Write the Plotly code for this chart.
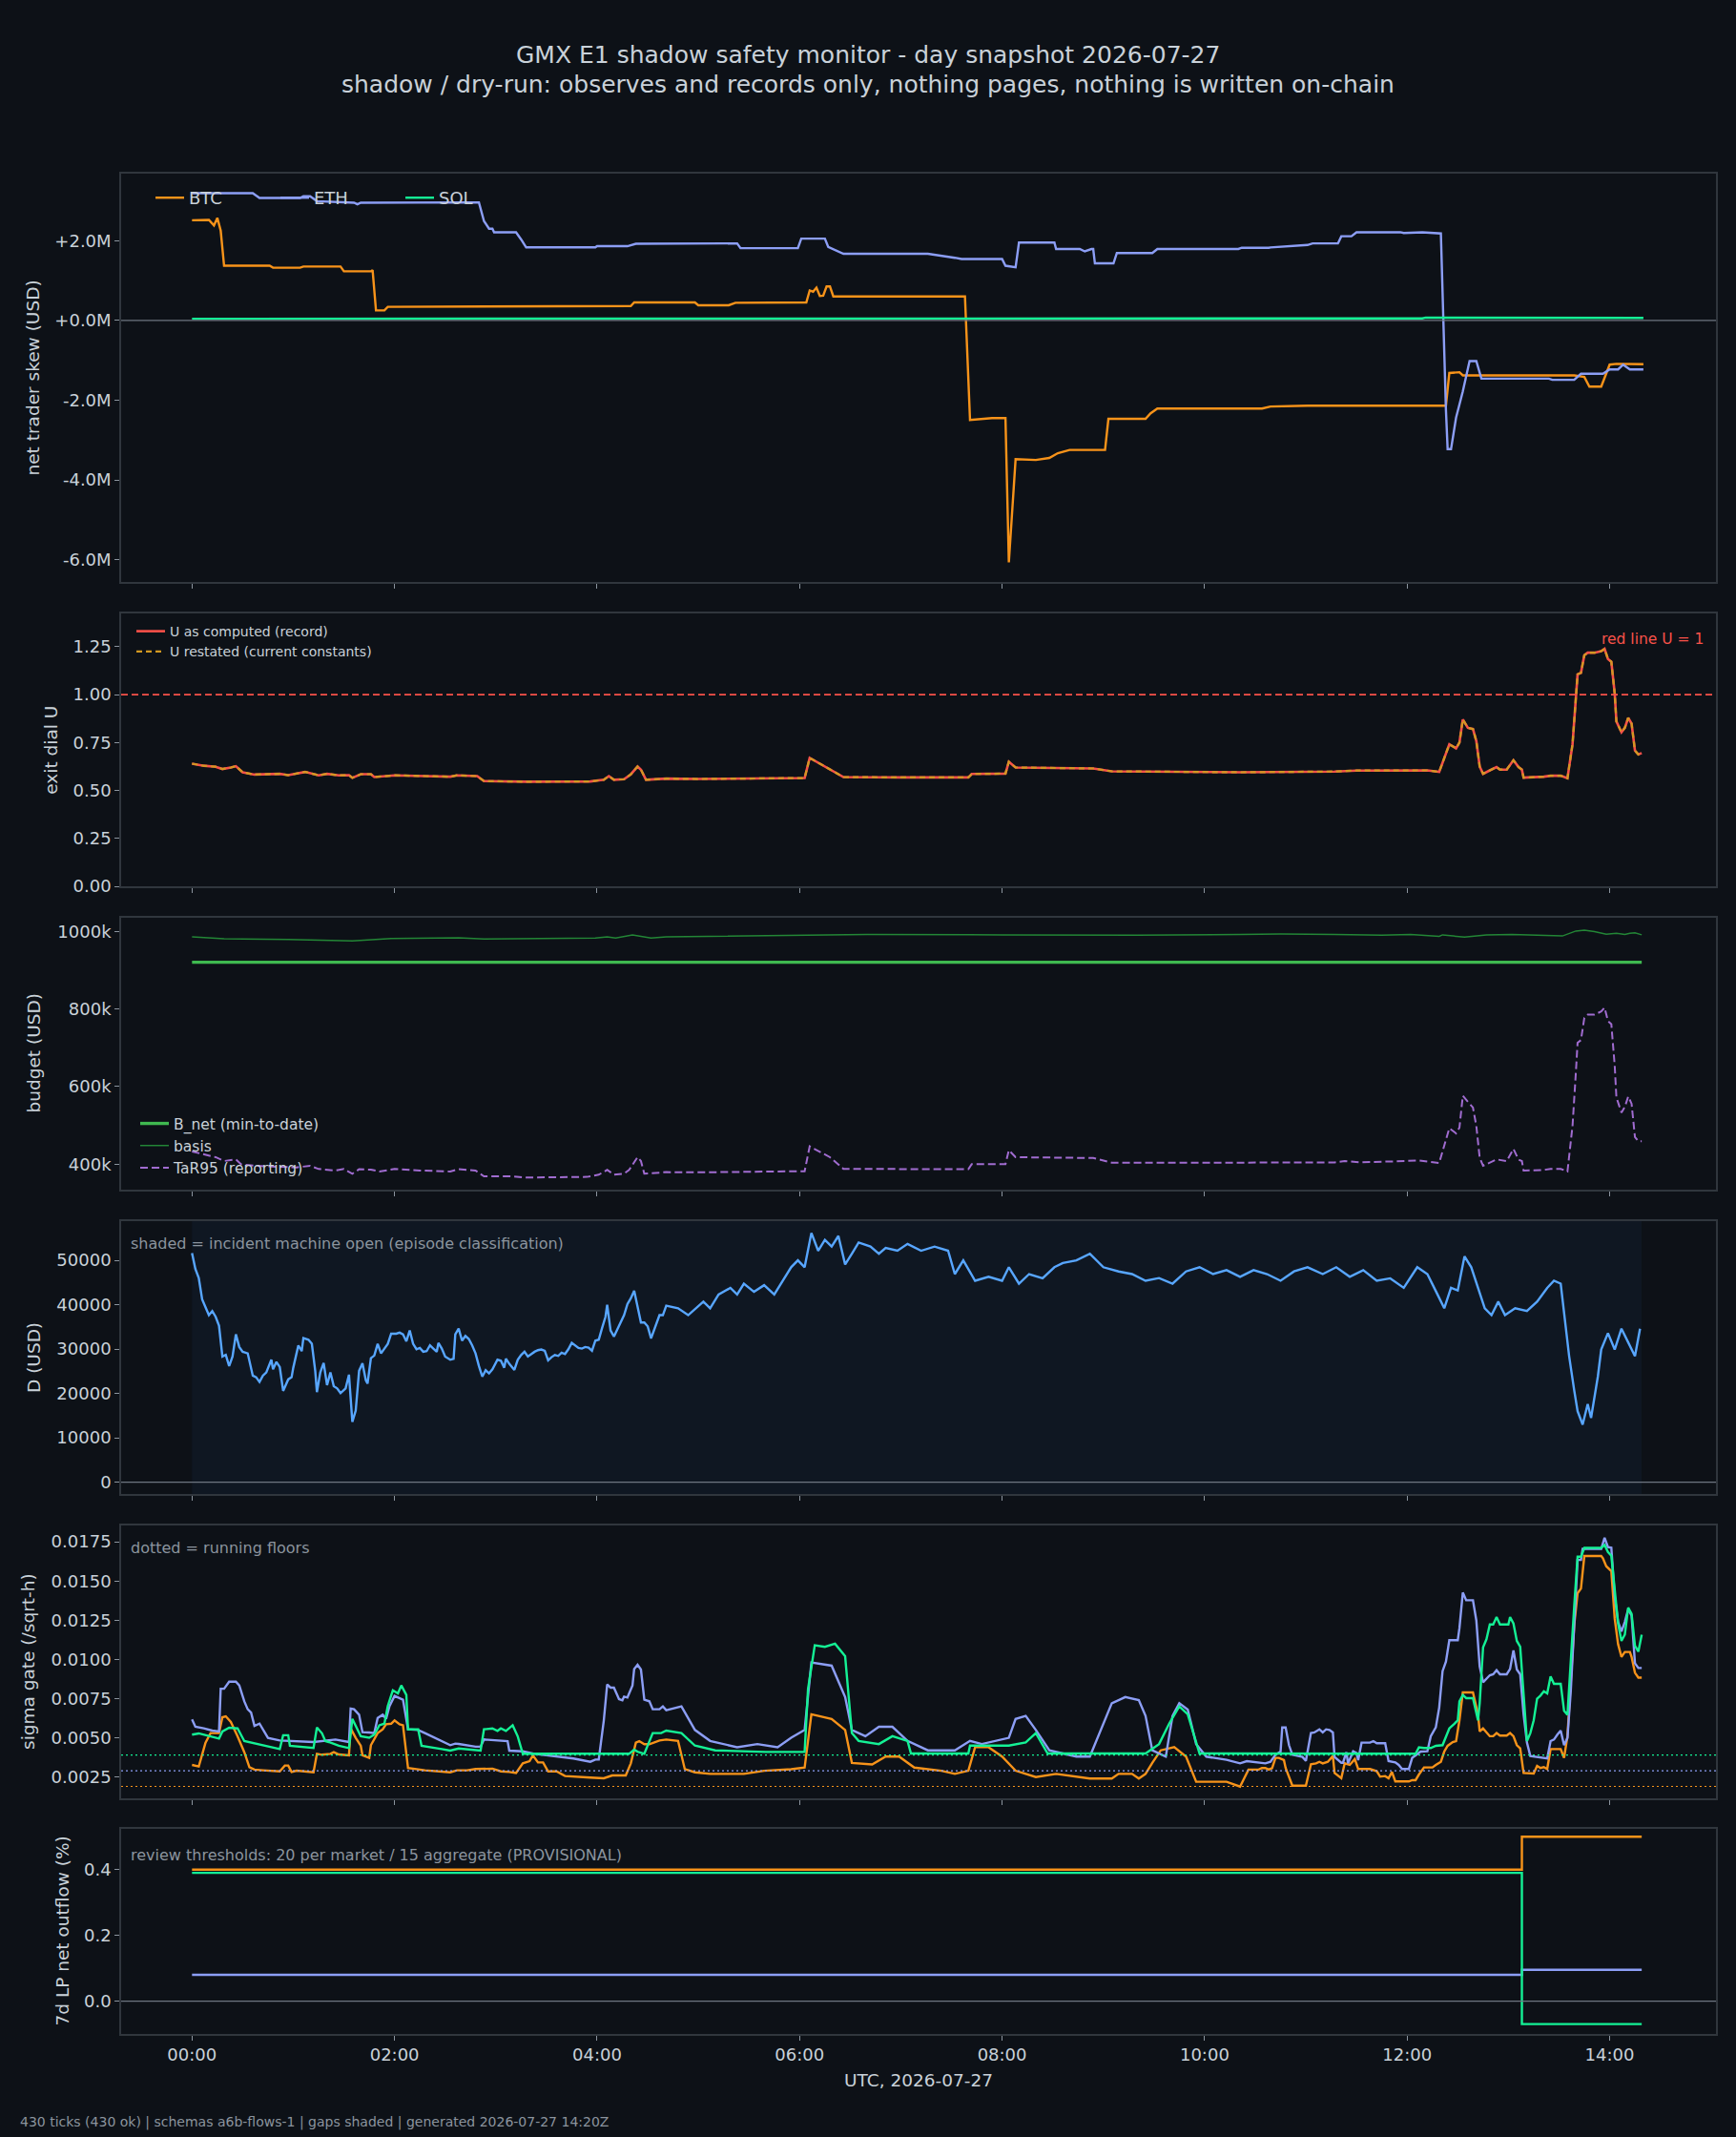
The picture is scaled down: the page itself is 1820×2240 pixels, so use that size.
import pandas as pd
import plotly.graph_objects as go
from plotly.subplots import make_subplots

# ---------------------------------------------------------------- data
# (minutes after 00:00 UTC, value)
SKEW_BTC = [(0, 2.51), (10, 2.52), (13, 2.38), (15, 2.57), (17, 2.25), (19, 1.37), (46, 1.37), (48, 1.32),
            (64, 1.32), (66, 1.35), (88, 1.35), (90, 1.23), (106, 1.23), (107, 1.26), (109, 0.25), (114, 0.25),
            (116, 0.34), (212, 0.35), (227, 0.36), (260, 0.36), (262, 0.45), (298, 0.45), (300, 0.38),
            (318, 0.38), (322, 0.44), (364, 0.45), (366, 0.75), (368, 0.72), (370, 0.82), (372, 0.61),
            (374, 0.62), (376, 0.85), (378, 0.85), (380, 0.60), (458, 0.60), (461, -2.50), (474, -2.45),
            (482, -2.45), (484, -6.07), (488, -3.48), (500, -3.50), (508, -3.45), (513, -3.33), (520, -3.25),
            (541, -3.25), (543, -2.47), (565, -2.47), (568, -2.33), (572, -2.21), (634, -2.21), (639, -2.16),
            (661, -2.14), (743, -2.14), (745, -1.32), (751, -1.30), (753, -1.38), (819, -1.38), (825, -1.42),
            (828, -1.66), (835, -1.66), (840, -1.11), (844, -1.09), (860, -1.10)]
SKEW_ETH = [(0, 3.19), (36, 3.19), (40, 3.07), (64, 3.07), (66, 3.11), (70, 3.11), (74, 2.99), (96, 2.95),
            (98, 2.91), (100, 2.95), (170, 2.96), (173, 2.49), (176, 2.30), (178, 2.30), (179, 2.21),
            (192, 2.21), (195, 2.03), (198, 1.83), (239, 1.83), (240, 1.86), (258, 1.86), (263, 1.92),
            (323, 1.93), (325, 1.81), (359, 1.81), (361, 2.05), (375, 2.05), (377, 1.84), (386, 1.67),
            (436, 1.67), (452, 1.57), (456, 1.54), (480, 1.54), (482, 1.37), (488, 1.33), (490, 1.95),
            (511, 1.95), (512, 1.79), (526, 1.79), (529, 1.73), (533, 1.79), (534, 1.79), (535, 1.43),
            (546, 1.43), (548, 1.69), (569, 1.69), (572, 1.79), (577, 1.80), (580, 1.79), (620, 1.79),
            (622, 1.82), (638, 1.82), (639, 1.83), (661, 1.89), (664, 1.93), (679, 1.93), (681, 2.11),
            (687, 2.11), (690, 2.21), (716, 2.21), (718, 2.19), (729, 2.21), (740, 2.18), (743, -2.25),
            (744, -3.23), (746, -3.23), (749, -2.44), (753, -1.78), (757, -1.02), (761, -1.02), (764, -1.46),
            (804, -1.46), (806, -1.49), (819, -1.49), (823, -1.34), (836, -1.34), (840, -1.23), (845, -1.23),
            (848, -1.11), (852, -1.23), (860, -1.23)]
SKEW_SOL = [(0, 0.04), (300, 0.04), (600, 0.05), (729, 0.05), (731, 0.07), (780, 0.07), (790, 0.06), (860, 0.06)]

U_RECORD = [(0, 0.640), (7, 0.629), (14, 0.624), (18, 0.612), (23, 0.620), (26, 0.627), (30, 0.595),
            (37, 0.583), (52, 0.587), (57, 0.580), (67, 0.597), (75, 0.579), (80, 0.587), (87, 0.579),
            (93, 0.580), (95, 0.566), (100, 0.585), (106, 0.585), (108, 0.570), (120, 0.579), (138, 0.575),
            (153, 0.572), (157, 0.579), (169, 0.575), (173, 0.549), (198, 0.546), (236, 0.547), (244, 0.556),
            (247, 0.575), (250, 0.556), (256, 0.559), (260, 0.584), (264, 0.625), (266, 0.609), (269, 0.556),
            (281, 0.562), (300, 0.560), (330, 0.563), (363, 0.565), (366, 0.670), (372, 0.640), (378, 0.610),
            (386, 0.570), (420, 0.568), (460, 0.568), (462, 0.586), (482, 0.588), (484, 0.650), (488, 0.620),
            (534, 0.615), (545, 0.600), (621, 0.595), (677, 0.599), (690, 0.604), (726, 0.607), (732, 0.605),
            (739, 0.597), (745, 0.741), (749, 0.720), (751, 0.750), (753, 0.871), (756, 0.827), (759, 0.821),
            (761, 0.758), (763, 0.625), (765, 0.587), (769, 0.605), (773, 0.622), (775, 0.609), (779, 0.609),
            (783, 0.658), (786, 0.622), (788, 0.609), (789, 0.567), (801, 0.572), (805, 0.577), (811, 0.577),
            (815, 0.564), (818, 0.741), (820, 1.006), (821, 1.106), (823, 1.114), (825, 1.206), (827, 1.219),
            (831, 1.219), (835, 1.227), (837, 1.239), (839, 1.186), (841, 1.172), (843, 1.006), (844, 0.860),
            (847, 0.804), (849, 0.827), (851, 0.879), (853, 0.849), (855, 0.708), (857, 0.688), (859, 0.695)]
U_RESTATED = U_RECORD  # restated U coincides with the recorded U over the whole day

B_NET_K = [(0, 920.5), (859, 920.5)]
BASIS_K = [(0, 985.7), (19, 980.8), (57, 979.2), (75, 977.6), (95, 975.2), (118, 981.6), (158, 983.3),
           (173, 980.0), (214, 981.6), (239, 983.0), (246, 985.7), (251, 983.0), (261, 990.7), (272, 983.0),
           (281, 985.7), (330, 989.0), (400, 992.0), (480, 991.0), (560, 990.0), (621, 991.8), (645, 993.0),
           (677, 992.0), (705, 990.0), (722, 992.0), (734, 989.0), (739, 987.0), (741, 991.0), (754, 985.0),
           (767, 991.0), (782, 992.0), (812, 988.0), (820, 1000.8), (825, 1003.0), (831, 999.4), (838, 992.8),
           (844, 995.2), (849, 992.0), (852, 995.0), (855, 996.0), (859, 991.0)]
TAR95_K = [(0, 432.8), (7, 424.6), (14, 418.1), (19, 408.2), (26, 412.3), (29, 400.0), (37, 396.0), (50, 393.5),
           (62, 391.8), (70, 396.0), (75, 387.7), (85, 383.7), (90, 387.7), (95, 375.5), (99, 387.0), (106, 386.0),
           (111, 381.2), (120, 387.7), (135, 383.7), (153, 381.2), (158, 387.0), (168, 383.7), (173, 368.9),
           (188, 368.9), (198, 365.6), (234, 367.3), (241, 373.0), (246, 385.3), (250, 373.0), (256, 375.5),
           (259, 385.3), (264, 418.1), (266, 408.2), (268, 375.5), (281, 379.6), (300, 379.0), (330, 381.0),
           (363, 382.0), (366, 446.0), (372, 432.0), (378, 418.0), (386, 388.0), (460, 387.0), (462, 400.0),
           (482, 400.0), (484, 436.0), (488, 418.0), (534, 416.0), (545, 404.0), (621, 404.1), (677, 404.6),
           (683, 408.2), (692, 404.6), (719, 408.2), (726, 409.8), (739, 403.3), (745, 492.7), (749, 479.6),
           (751, 494.3), (753, 576.3), (756, 559.9), (759, 545.9), (761, 498.4), (763, 416.4), (765, 396.0),
           (769, 404.0), (773, 412.3), (779, 408.0), (783, 439.4), (786, 412.0), (788, 408.0), (789, 383.7),
           (801, 385.3), (805, 388.0), (811, 388.0), (815, 381.2), (818, 498.4), (820, 637.7), (821, 713.1),
           (823, 719.7), (825, 777.1), (827, 785.3), (831, 785.3), (835, 793.5), (837, 803.3), (839, 768.9),
           (841, 760.7), (843, 654.1), (844, 572.2), (847, 532.8), (849, 547.6), (851, 574.6), (853, 555.8),
           (855, 469.7), (857, 459.1), (859, 459.1)]

D_EARLY_T = [0, 2, 4, 6, 8, 10, 12, 14, 16, 18, 20, 22, 24, 26, 28, 30, 33, 36, 38, 40,
             42, 44, 47, 48, 50, 52, 54, 57, 59, 60, 63, 65, 66, 69, 71, 73, 74, 76, 78, 80,
             82, 84, 86, 88, 91, 93, 95, 97, 99, 101, 103, 104, 106, 108, 110, 112, 114, 116, 118, 121,
             123, 125, 127, 129, 131, 133, 135, 137, 139, 141, 143, 145, 146, 148, 150, 153, 155, 156, 158, 160,
             162, 164, 166, 168, 170, 172, 174, 176, 178, 181, 183, 185, 186, 188, 191, 193, 195, 197, 199, 201,
             203, 205, 207, 209, 211, 213, 215, 217, 219, 221, 223, 225, 227, 229, 231, 233, 235, 237, 239, 241,
             243, 245, 246, 248, 250, 252, 254, 256, 258, 260, 262, 264, 266, 268, 270, 272, 275, 277, 279, 281]
D_EARLY_V = [51620, 48040, 46030, 41230, 39430, 37640, 38570, 37280, 35270, 28320,
             28680, 26170, 28320, 33340, 30470, 29400, 29040, 24020, 23660, 22590,
             24020, 24740, 27600, 25450, 27100, 25950, 20580, 23160, 23660, 25810,
             30830, 29540, 32480, 32120, 31190, 25100, 20290, 24740, 26890, 21870,
             24740, 21650, 21150, 20080, 21150, 24230, 13620, 16130, 25100, 26820,
             22940, 22230, 27960, 28540, 31190, 29040, 30110, 31190, 33480, 33480,
             33700, 33340, 31760, 34200, 31190, 29970, 30260, 29400, 29540, 30830,
             30110, 29400, 31400, 30110, 28320, 27600, 27820, 33340, 34630, 31910,
             32980, 32270, 30830, 29040, 26170, 23800, 25240, 24520, 25450, 27600,
             27390, 25810, 27820, 26670, 25310, 27600, 28680, 29400, 28320, 28890,
             29400, 29760, 29900, 29610, 27460, 28180, 28680, 28460, 29180, 28890,
             29970, 31400, 30830, 30260, 30110, 30470, 30330, 29610, 31910, 32120,
             34780, 37280, 40010, 34200, 32840, 34420, 35990, 37640, 40150, 41440,
             43160, 39790, 35990, 35990, 35130, 32410, 35350, 37640, 37640, 39790]
D_LATE_T = [288, 294, 303, 307, 312, 319, 323, 327, 333, 339, 345, 351, 355, 359, 363, 367, 371, 375, 379, 383,
            387, 391, 395, 402, 407, 411, 418, 424, 432, 440, 448, 452, 457, 464, 472, 480, 484, 490, 496, 504,
            511, 516, 524, 532, 540, 549, 557, 565, 573, 581, 589, 597, 605, 613, 621, 629, 637, 645, 653, 661,
            670, 678, 686, 694, 702, 710, 718, 726, 732, 738, 742, 746, 750, 754, 758, 762, 766, 770, 774, 778,
            784, 791, 797, 803, 807, 811, 813, 816, 819, 821, 824, 827, 829, 833, 835, 839, 843, 847, 851, 855, 858]
D_LATE_V = [39200, 37650, 40700, 39200, 42300, 43800, 42300, 44750, 42900, 44400,
            42300, 46000, 48450, 50000, 48450, 56170, 52160, 54600, 53100, 55500,
            49070, 51500, 54000, 53100, 51500, 52800, 52160, 53700, 52160, 53100,
            52160, 46900, 50000, 45400, 46300, 45400, 48450, 44750, 46900, 45950,
            48450, 49400, 50000, 51500, 48450, 47500, 46900, 45400, 46000, 44750,
            47500, 48450, 46900, 47800, 46300, 47800, 46900, 45400, 47500, 48450,
            46900, 48450, 46300, 47800, 45400, 45950, 43800, 48450, 46900, 42300,
            39200, 43800, 43200, 50900, 48450, 43800, 39200, 37650, 40700, 37650,
            39200, 38600, 40700, 43800, 45400, 44750, 37650, 28400, 20700, 16000,
            13000, 17600, 14500, 23800, 29900, 33600, 29900, 34600, 31500, 28400, 34600]
INCIDENT_OPEN = (0, 859)

SIG_BTC = [(0, 0.00327), (4, 0.00317), (8, 0.00469), (11, 0.0053), (16, 0.0053), (18, 0.00631), (20, 0.00637),
           (23, 0.00601), (27, 0.0051), (31, 0.00408), (34, 0.00313), (37, 0.00297), (42, 0.00293), (52, 0.00286),
           (55, 0.00323), (57, 0.00323), (59, 0.00282), (62, 0.0029), (72, 0.0028), (74, 0.00398), (77, 0.00392),
           (82, 0.00398), (84, 0.00408), (87, 0.00394), (93, 0.00388), (94, 0.0056), (97, 0.005), (100, 0.00449),
           (101, 0.00388), (105, 0.00372), (106, 0.00453), (110, 0.0053), (113, 0.00554), (115, 0.00586),
           (118, 0.0059), (120, 0.00611), (123, 0.00586), (125, 0.0058), (128, 0.00307), (138, 0.00293),
           (153, 0.0028), (157, 0.00293), (163, 0.00293), (168, 0.00301), (178, 0.00303), (183, 0.00286),
           (188, 0.00282), (192, 0.00276), (196, 0.00337), (200, 0.00351), (202, 0.00388), (205, 0.00343),
           (208, 0.00343), (211, 0.00286), (216, 0.00286), (221, 0.00256), (236, 0.00246), (244, 0.00242),
           (249, 0.0026), (257, 0.0026), (260, 0.00337), (263, 0.00469), (265, 0.00479), (268, 0.00459),
           (271, 0.00459), (277, 0.00483), (281, 0.00489), (288, 0.0048), (292, 0.0030), (298, 0.0028),
           (307, 0.0027), (327, 0.0027), (339, 0.0029), (355, 0.0030), (363, 0.0031), (367, 0.0065),
           (379, 0.0062), (387, 0.0055), (391, 0.0034), (403, 0.0033), (411, 0.0038), (419, 0.0038),
           (428, 0.0031), (444, 0.0029), (452, 0.0027), (460, 0.0029), (464, 0.0044), (472, 0.0044),
           (480, 0.0038), (488, 0.0029), (500, 0.0025), (512, 0.0027), (532, 0.0024), (545, 0.0024),
           (549, 0.0027), (557, 0.0027), (561, 0.0024), (565, 0.0027), (569, 0.0034), (574, 0.0042),
           (582, 0.0044), (589, 0.0038), (595, 0.0022), (613, 0.0022), (621, 0.00189), (626, 0.00297),
           (632, 0.00297), (634, 0.00307), (636, 0.00307), (638, 0.00297), (640, 0.00307), (642, 0.00372),
           (644, 0.00372), (647, 0.00358), (648, 0.00307), (652, 0.00195), (660, 0.00195), (663, 0.00331),
           (666, 0.00337), (668, 0.00347), (670, 0.00337), (673, 0.00347), (676, 0.00384), (677, 0.00276),
           (681, 0.00242), (683, 0.00337), (686, 0.00327), (689, 0.00364), (691, 0.00301), (698, 0.00301),
           (702, 0.00287), (704, 0.00252), (707, 0.00256), (709, 0.00242), (711, 0.00282), (713, 0.00222),
           (721, 0.00222), (723, 0.0023), (725, 0.0023), (727, 0.00266), (730, 0.00311), (735, 0.00311),
           (737, 0.00327), (740, 0.00347), (742, 0.00412), (744, 0.00449), (747, 0.00473), (749, 0.00479),
           (751, 0.00611), (753, 0.00789), (759, 0.00789), (762, 0.00651), (763, 0.0054), (765, 0.0056),
           (769, 0.0051), (771, 0.0051), (773, 0.0053), (775, 0.00514), (779, 0.00514), (781, 0.0053),
           (783, 0.0051), (785, 0.00453), (787, 0.00433), (789, 0.00276), (795, 0.00272), (797, 0.00321),
           (799, 0.00307), (801, 0.00313), (803, 0.00301), (805, 0.00428), (811, 0.00428), (813, 0.00372),
           (815, 0.0051), (817, 0.00895), (819, 0.01219), (821, 0.01422), (823, 0.01452), (825, 0.01659),
           (835, 0.01659), (836, 0.01645), (838, 0.01594), (841, 0.01563), (843, 0.0126), (845, 0.01097),
           (847, 0.01016), (849, 0.01047), (852, 0.01047), (853, 0.01016), (855, 0.00915), (857, 0.00884),
           (859, 0.00884)]
SIG_ETH = [(0, 0.00617), (2, 0.0057), (7, 0.0056), (12, 0.00546), (16, 0.0054), (17, 0.00813), (19, 0.00813),
           (22, 0.00858), (26, 0.00858), (28, 0.00834), (31, 0.00732), (33, 0.00682), (35, 0.00661),
           (37, 0.00576), (40, 0.0059), (42, 0.00554), (45, 0.00499), (52, 0.00483), (62, 0.00479),
           (72, 0.00473), (85, 0.00489), (93, 0.00473), (94, 0.00686), (96, 0.00682), (99, 0.00647),
           (101, 0.00536), (105, 0.00534), (108, 0.0053), (110, 0.00627), (113, 0.00647), (115, 0.00621),
           (117, 0.00702), (120, 0.00767), (123, 0.00753), (125, 0.00743), (128, 0.00554), (134, 0.0055),
           (138, 0.0053), (153, 0.00453), (156, 0.00463), (158, 0.00461), (168, 0.00443), (171, 0.00443),
           (173, 0.00489), (187, 0.00479), (188, 0.00418), (196, 0.00414), (203, 0.00398), (214, 0.00384),
           (226, 0.00368), (236, 0.00347), (239, 0.00361), (241, 0.00361), (244, 0.00611), (246, 0.0084),
           (248, 0.0082), (250, 0.0082), (253, 0.00747), (255, 0.00739), (256, 0.00763), (258, 0.00757),
           (261, 0.00834), (262, 0.00939), (264, 0.00966), (266, 0.00935), (268, 0.00743), (271, 0.00733),
           (273, 0.00682), (277, 0.00682), (279, 0.0070), (281, 0.00676), (290, 0.0070), (298, 0.0055),
           (307, 0.0048), (323, 0.0044), (335, 0.0046), (347, 0.0044), (355, 0.0050), (363, 0.0055),
           (367, 0.0098), (379, 0.0096), (387, 0.0076), (391, 0.0055), (399, 0.0051), (407, 0.0057),
           (415, 0.0057), (424, 0.0048), (436, 0.0042), (452, 0.0042), (461, 0.0048), (468, 0.0046),
           (484, 0.0050), (488, 0.0062), (494, 0.0064), (500, 0.0055), (508, 0.0042), (524, 0.0038),
           (532, 0.0038), (545, 0.0072), (553, 0.0076), (561, 0.0074), (565, 0.0064), (569, 0.0042),
           (577, 0.0038), (581, 0.0064), (585, 0.0072), (590, 0.0068), (595, 0.0046), (601, 0.0038),
           (613, 0.0036), (621, 0.00337), (625, 0.00351), (636, 0.00337), (639, 0.00347), (642, 0.00392),
           (645, 0.00412), (646, 0.00566), (648, 0.00566), (650, 0.00453), (652, 0.00392), (658, 0.00378),
           (660, 0.00353), (663, 0.0053), (665, 0.00534), (668, 0.00554), (670, 0.00534), (672, 0.00554),
           (674, 0.0055), (676, 0.00534), (677, 0.00378), (681, 0.00341), (682, 0.00341), (684, 0.00408),
           (685, 0.00337), (688, 0.00414), (690, 0.00402), (691, 0.00357), (693, 0.00469), (698, 0.00469),
           (700, 0.00479), (702, 0.00465), (707, 0.00465), (709, 0.00351), (713, 0.00343), (715, 0.00327),
           (717, 0.00301), (721, 0.00301), (723, 0.00372), (725, 0.00388), (728, 0.00412), (732, 0.00414),
           (734, 0.0051), (737, 0.00566), (739, 0.00692), (741, 0.00925), (743, 0.00986), (745, 0.01122),
           (750, 0.01122), (751, 0.01199), (753, 0.01426), (755, 0.01377), (759, 0.01377), (761, 0.01249),
           (763, 0.00955), (765, 0.00854), (769, 0.00899), (771, 0.00905), (773, 0.00931), (775, 0.00905),
           (779, 0.00905), (781, 0.00939), (783, 0.01057), (785, 0.00935), (787, 0.00905), (789, 0.00651),
           (791, 0.00469), (793, 0.00384), (798, 0.00378), (803, 0.00368), (805, 0.00479), (807, 0.00489),
           (809, 0.0052), (811, 0.00546), (813, 0.00453), (815, 0.00499), (817, 0.00803), (819, 0.01199),
           (821, 0.01634), (823, 0.01634), (824, 0.01705), (835, 0.01705), (837, 0.01776), (839, 0.01716),
           (841, 0.01712), (843, 0.01401), (845, 0.01239), (847, 0.01178), (849, 0.01239), (851, 0.0132),
           (853, 0.0128), (855, 0.00976), (857, 0.00945), (859, 0.00945)]
SIG_SOL = [(0, 0.0052), (4, 0.00528), (16, 0.00495), (18, 0.0054), (22, 0.00564), (27, 0.0056), (31, 0.00479),
           (37, 0.00465), (52, 0.00428), (54, 0.00516), (57, 0.00516), (58, 0.00449), (62, 0.00445),
           (72, 0.00435), (74, 0.00566), (77, 0.00529), (79, 0.00479), (81, 0.00473), (87, 0.00449),
           (93, 0.00434), (95, 0.00621), (98, 0.0056), (100, 0.0051), (105, 0.005), (108, 0.0052),
           (111, 0.0058), (114, 0.0059), (116, 0.00703), (119, 0.00803), (122, 0.00783), (124, 0.00834),
           (127, 0.00773), (128, 0.00554), (134, 0.00554), (136, 0.00449), (148, 0.00428), (153, 0.00418),
           (158, 0.00432), (171, 0.00418), (173, 0.00554), (178, 0.0056), (181, 0.00544), (183, 0.0056),
           (186, 0.00544), (190, 0.0058), (193, 0.00509), (196, 0.00398), (259, 0.00398), (262, 0.00424),
           (264, 0.00412), (268, 0.00398), (273, 0.0053), (278, 0.0053), (281, 0.00546), (290, 0.0053),
           (298, 0.0045), (310, 0.0042), (340, 0.0041), (363, 0.0041), (365, 0.0081), (369, 0.0109),
           (375, 0.0108), (381, 0.0110), (387, 0.0102), (391, 0.0053), (395, 0.0048), (407, 0.0046),
           (415, 0.0051), (424, 0.0048), (426, 0.0040), (460, 0.0040), (461, 0.0045), (484, 0.0045),
           (494, 0.0047), (500, 0.0053), (507, 0.0040), (565, 0.0040), (573, 0.0046), (579, 0.0059),
           (585, 0.0070), (590, 0.0065), (597, 0.0040), (613, 0.0040), (621, 0.00398), (725, 0.00398),
           (727, 0.00439), (730, 0.00435), (734, 0.00435), (737, 0.00449), (741, 0.00453), (745, 0.0056),
           (748, 0.0059), (750, 0.00611), (751, 0.00732), (753, 0.00773), (755, 0.00753), (759, 0.00753),
           (762, 0.00611), (763, 0.00722), (765, 0.01077), (767, 0.01128), (769, 0.01223), (771, 0.01223),
           (773, 0.0127), (775, 0.01223), (780, 0.01223), (781, 0.0127), (783, 0.01229), (785, 0.01118),
           (787, 0.01081), (789, 0.00773), (791, 0.00479), (793, 0.0053), (795, 0.00611), (797, 0.00749),
           (799, 0.00769), (801, 0.00797), (803, 0.00783), (805, 0.00891), (807, 0.00844), (811, 0.00844),
           (813, 0.00672), (815, 0.00647), (817, 0.01016), (819, 0.0134), (821, 0.01655), (823, 0.01655),
           (825, 0.01711), (835, 0.01711), (837, 0.0173), (839, 0.01685), (841, 0.01661), (843, 0.01422),
           (845, 0.01229), (847, 0.01118), (849, 0.01158), (851, 0.0133), (853, 0.0129), (855, 0.01087),
           (857, 0.0105), (859, 0.01158)]
SIG_FLOOR = {"BTC": 0.0019, "ETH": 0.0029, "SOL": 0.0039}

LP_BTC = [(0, 0.40), (788, 0.50), (859, 0.50)]
LP_ETH = [(0, 0.08), (788, 0.095), (859, 0.095)]
LP_SOL = [(0, 0.39), (788, -0.07), (859, -0.07)]

SKEW_TICKS = [-6, -4, -2, 0, 2]
SKEW_TICKTEXT = ["-6.0M", "-4.0M", "-2.0M", "+0.0M", "+2.0M"]
U_TICKS = [0, 0.25, 0.5, 0.75, 1.0, 1.25]
BUDGET_TICKS = [400, 600, 800, 1000]
D_TICKS = [0, 10000, 20000, 30000, 40000, 50000]
SIG_TICKS = [0.0025, 0.005, 0.0075, 0.01, 0.0125, 0.015, 0.0175]
LP_TICKS = [0.0, 0.2, 0.4]
X_TICK_MIN = [0, 120, 240, 360, 480, 600, 720, 840]

# ---------------------------------------------------------------- helpers
BASE = pd.Timestamp("2026-07-27 00:00")


def T(m):
    return (BASE + pd.Timedelta(minutes=float(m))).strftime("%Y-%m-%d %H:%M:%S")


def xs(pairs):
    return [T(p[0]) for p in pairs]


def ys(pairs):
    return [p[1] for p in pairs]


W, H = 1820, 2240
ML, MR, MT, MB = 127, 21, 182, 108
PW, PH = W - ML - MR, H - MT - MB


def py(y):
    return (H - MB - y) / PH


def px(x):
    return (x - ML) / PW


BG = "#0d1117"
FG = "#c9d1d9"
MUTED = "#8b949e"
SPINE = "#30363d"
C_BTC = "#f7931a"
C_ETH = "#8c9ef5"
C_SOL = "#14f195"
FONT = "DejaVu Sans"
LW = 2.4

PANELS = [(182, 610), (643, 929), (962, 1247), (1280, 1566), (1599, 1885), (1917, 2132)]

fig = make_subplots(rows=6, cols=1)

# panel 1: skew
for name, data, col in [("BTC", SKEW_BTC, C_BTC), ("ETH", SKEW_ETH, C_ETH), ("SOL", SKEW_SOL, C_SOL)]:
    fig.add_trace(go.Scatter(x=xs(data), y=ys(data), mode="lines", name=name,
                             line=dict(color=col, width=LW), legend="legend", hoverinfo="skip"), row=1, col=1)

# panel 2: exit dial
fig.add_trace(go.Scatter(x=xs(U_RECORD), y=ys(U_RECORD), mode="lines", name="U as computed (record)",
                         line=dict(color="#f85149", width=2.6), legend="legend2", hoverinfo="skip"), row=2, col=1)
fig.add_trace(go.Scatter(x=xs(U_RESTATED), y=ys(U_RESTATED), mode="lines", name="U restated (current constants)",
                         line=dict(color="#d29922", width=2.2, dash="6px,4px"), legend="legend2",
                         hoverinfo="skip"), row=2, col=1)

# panel 3: budget
fig.add_trace(go.Scatter(x=xs(B_NET_K), y=ys(B_NET_K), mode="lines", name="B_net (min-to-date)",
                         line=dict(color="#3fb950", width=3.4), legend="legend3", hoverinfo="skip"), row=3, col=1)
fig.add_trace(go.Scatter(x=xs(BASIS_K), y=ys(BASIS_K), mode="lines", name="basis",
                         line=dict(color="#238636", width=1.5), legend="legend3", hoverinfo="skip"), row=3, col=1)
fig.add_trace(go.Scatter(x=xs(TAR95_K), y=ys(TAR95_K), mode="lines", name="TaR95 (reporting)",
                         line=dict(color="#a06cd0", width=2.0, dash="8px,4px"), legend="legend3",
                         hoverinfo="skip"), row=3, col=1)

# panel 4: D
fig.add_trace(go.Scatter(x=[T(m) for m in D_EARLY_T + D_LATE_T], y=D_EARLY_V + D_LATE_V, mode="lines",
                         line=dict(color="#58a6ff", width=LW), showlegend=False, hoverinfo="skip"), row=4, col=1)

# panel 5: sigma gate
for data, col in [(SIG_BTC, C_BTC), (SIG_ETH, C_ETH), (SIG_SOL, C_SOL)]:
    fig.add_trace(go.Scatter(x=xs(data), y=ys(data), mode="lines", line=dict(color=col, width=LW),
                             showlegend=False, hoverinfo="skip"), row=5, col=1)

# panel 6: LP outflow
for data, col in [(LP_BTC, C_BTC), (LP_ETH, C_ETH), (LP_SOL, C_SOL)]:
    fig.add_trace(go.Scatter(x=xs(data), y=ys(data), mode="lines", line=dict(color=col, width=LW, shape="hv"),
                             showlegend=False, hoverinfo="skip"), row=6, col=1)

# ---------------------------------------------------------------- axes
xrange_ = [T(-42), T(903)]
tickfont = dict(family=FONT, size=18, color=FG)
for i in range(1, 7):
    top, bot = PANELS[i - 1]
    fig.update_layout(**{
        f"xaxis{i if i > 1 else ''}": dict(
            type="date", range=xrange_, tickvals=[T(m) for m in X_TICK_MIN],
            ticktext=[f"{m // 60:02d}:00" for m in X_TICK_MIN], showticklabels=(i == 6),
            ticks="outside", ticklen=5, tickwidth=1.3, tickcolor=MUTED, tickfont=tickfont,
            showline=True, mirror=True, linecolor=SPINE, linewidth=1.6, showgrid=False, zeroline=False,
            automargin=False, domain=[0, 1]),
        f"yaxis{i if i > 1 else ''}": dict(
            domain=[py(bot), py(top)], ticks="outside", ticklen=5, tickwidth=1.3, tickcolor=MUTED,
            tickfont=tickfont, showline=True, mirror=True, linecolor=SPINE, linewidth=1.6,
            showgrid=False, zeroline=False, automargin=False),
    })

fig.update_yaxes(range=[-6.56, 3.68], tickvals=SKEW_TICKS, ticktext=SKEW_TICKTEXT, row=1, col=1)
fig.update_yaxes(range=[0, 1.424], tickvals=U_TICKS, tickformat=".2f", row=2, col=1)
fig.update_yaxes(range=[334.4, 1035], tickvals=BUDGET_TICKS, ticktext=[f"{v}k" for v in BUDGET_TICKS], row=3, col=1)
fig.update_yaxes(range=[-2650, 58830], tickvals=D_TICKS, ticktext=[str(v) for v in D_TICKS], row=4, col=1)
fig.update_yaxes(range=[0.00114, 0.01854], tickvals=SIG_TICKS, tickformat=".4f", row=5, col=1)
fig.update_yaxes(range=[-0.1, 0.524], tickvals=LP_TICKS, tickformat=".1f", row=6, col=1)

# ---------------------------------------------------------------- reference lines & shading
shapes = []
for i in (1, 4, 6):
    shapes.append(dict(type="line", xref=f"x{i if i > 1 else ''} domain", x0=0, x1=1,
                       yref=f"y{i if i > 1 else ''}", y0=0, y1=0, line=dict(color="#6e7681", width=1.2)))
shapes.append(dict(type="line", xref="x2 domain", x0=0, x1=1, yref="y2", y0=1.0, y1=1.0,
                   line=dict(color="#f85149", width=1.7, dash="7px,4px")))
for name, col in [("BTC", C_BTC), ("ETH", C_ETH), ("SOL", C_SOL)]:
    shapes.append(dict(type="line", xref="x5 domain", x0=0, x1=1, yref="y5", y0=SIG_FLOOR[name],
                       y1=SIG_FLOOR[name], line=dict(color=col, width=1.2, dash="2px,3px")))
shapes.append(dict(type="rect", xref="x4", x0=T(INCIDENT_OPEN[0]), x1=T(INCIDENT_OPEN[1]), yref="y4 domain",
                   y0=0, y1=1, fillcolor="rgba(56,139,253,0.05)", line=dict(width=0), layer="below"))

# ---------------------------------------------------------------- text
ann = []
ann.append(dict(text="GMX E1 shadow safety monitor - day snapshot 2026-07-27", x=px(910), y=py(58),
                xref="paper", yref="paper", showarrow=False, font=dict(family=FONT, size=25, color=FG),
                xanchor="center", yanchor="middle"))
ann.append(dict(text="shadow / dry-run: observes and records only, nothing pages, nothing is written on-chain",
                x=px(910), y=py(89), xref="paper", yref="paper", showarrow=False,
                font=dict(family=FONT, size=25, color=FG), xanchor="center", yanchor="middle"))
ytitles = [("net trader skew (USD)", 33.5), ("exit dial U", 52.7), ("budget (USD)", 35), ("D (USD)", 35),
           ("sigma gate (/sqrt-h)", 29), ("7d LP net outflow (%)", 65)]
for (txt, xc), (top, bot) in zip(ytitles, PANELS):
    ann.append(dict(text=txt, x=px(xc), y=py((top + bot) / 2), xref="paper", yref="paper", showarrow=False,
                    textangle=-90, font=dict(family=FONT, size=18.5, color=FG), xanchor="center",
                    yanchor="middle"))
ann.append(dict(text="UTC, 2026-07-27", x=0.5, y=py(2180), xref="paper", yref="paper", showarrow=False,
                font=dict(family=FONT, size=18.5, color=FG), xanchor="center", yanchor="middle"))
ann.append(dict(text="430 ticks (430 ok) | schemas a6b-flows-1 | gaps shaded | generated 2026-07-27 14:20Z",
                x=px(19), y=py(2224), xref="paper", yref="paper", showarrow=False,
                font=dict(family=FONT, size=14, color=MUTED), xanchor="left", yanchor="middle"))
ann.append(dict(text="red line U = 1", x=px(1788), y=py(670), xref="paper", yref="paper", showarrow=False,
                font=dict(family=FONT, size=15.5, color="#f85149"), xanchor="right", yanchor="middle"))
ann.append(dict(text="shaded = incident machine open (episode classification)", x=px(135), y=py(1303),
                xref="paper", yref="paper", showarrow=False, font=dict(family=FONT, size=16, color=MUTED),
                xanchor="left", yanchor="middle"))
ann.append(dict(text="dotted = running floors", x=px(135), y=py(1622), xref="paper", yref="paper",
                showarrow=False, font=dict(family=FONT, size=16, color=MUTED), xanchor="left",
                yanchor="middle"))
ann.append(dict(text="review thresholds: 20 per market / 15 aggregate (PROVISIONAL)", x=px(135), y=py(1944),
                xref="paper", yref="paper", showarrow=False, font=dict(family=FONT, size=16, color=MUTED),
                xanchor="left", yanchor="middle"))

fig.update_layout(
    width=W, height=H, margin=dict(l=ML, r=MR, t=MT, b=MB, pad=0),
    paper_bgcolor=BG, plot_bgcolor=BG, template="none",
    font=dict(family=FONT, color=FG, size=16),
    shapes=shapes, annotations=ann,
    legend=dict(orientation="h", x=px(158), y=py(189), xanchor="left", yanchor="top",
                bgcolor="rgba(0,0,0,0)", font=dict(family=FONT, size=18, color=FG),
                entrywidth=86, entrywidthmode="pixels", itemwidth=30),
    legend2=dict(orientation="v", x=px(138), y=py(646), xanchor="left", yanchor="top",
                 bgcolor="rgba(0,0,0,0)", font=dict(family=FONT, size=14, color=FG)),
    legend3=dict(orientation="v", x=px(142), y=py(1241), xanchor="left", yanchor="bottom",
                 bgcolor="rgba(0,0,0,0)", font=dict(family=FONT, size=15.5, color=FG)),
)

fig.write_html("out.html")
